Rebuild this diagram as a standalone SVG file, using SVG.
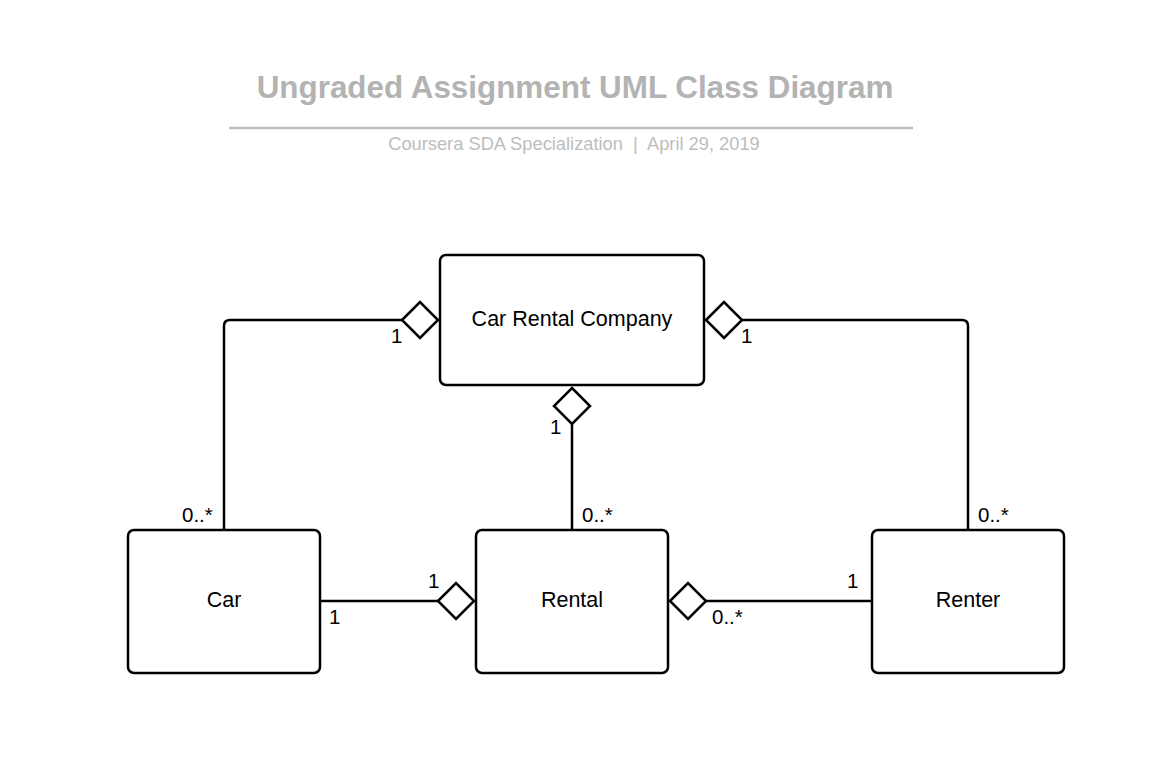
<svg xmlns="http://www.w3.org/2000/svg" width="1172" height="778" viewBox="0 0 1172 778">
<style>
.box{fill:#fff;stroke:#000;stroke-width:2.5}
.lbl{font-family:"Liberation Sans",Arial,sans-serif;font-size:21.5px;fill:#000;text-anchor:middle}
.m{font-family:"Liberation Sans",Arial,sans-serif;font-size:20.5px;fill:#000}
.c{fill:none;stroke:#000;stroke-width:2.5;stroke-linejoin:round}
.d{fill:#fff;stroke:#000;stroke-width:2.5;stroke-linejoin:miter}
</style>
<rect width="1172" height="778" fill="#fff"/>
<g id="title">
<text x="575" y="98" text-anchor="middle" font-family="'Liberation Sans',Arial,sans-serif" font-size="31.4" font-weight="bold" fill="#b3b3b3">Ungraded Assignment UML Class Diagram</text>
<line x1="229" y1="128" x2="913" y2="128" stroke="#bdbdbd" stroke-width="2.5"/>
<text x="574" y="150" text-anchor="middle" font-family="'Liberation Sans',Arial,sans-serif" font-size="18.3" fill="#bdbdbd" xml:space="preserve">Coursera SDA Specialization  |  April 29, 2019</text>
</g>
<g id="connectors">
<path class="c" d="M402,320 H230 Q224,320 224,326 V530"/>
<path class="c" d="M742,320 H962 Q968,320 968,326 V530"/>
<path class="c" d="M572,424 V530"/>
<path class="c" d="M320,601 H438"/>
<path class="c" d="M706,601 H872"/>
<polygon class="d" points="402,320 420,302 438,320 420,338"/>
<polygon class="d" points="706,320 724,302 742,320 724,338"/>
<polygon class="d" points="572,388 590,406 572,424 554,406"/>
<polygon class="d" points="438,601 456,583 474,601 456,619"/>
<polygon class="d" points="670,601 688,583 706,601 688,619"/>
<text class="m" x="391" y="343">1</text>
<text class="m" x="741" y="343">1</text>
<text class="m" x="550" y="434">1</text>
<text class="m" x="182" y="522">0..*</text>
<text class="m" x="582" y="522">0..*</text>
<text class="m" x="978" y="522">0..*</text>
<text class="m" x="428" y="588">1</text>
<text class="m" x="329" y="624">1</text>
<text class="m" x="847" y="588">1</text>
<text class="m" x="712" y="624">0..*</text>
</g>
<g id="crc">
<rect class="box" x="440" y="255" width="264" height="130" rx="6"/>
<text class="lbl" x="572" y="326">Car Rental Company</text>
</g>
<g id="car">
<rect class="box" x="128" y="530" width="192" height="143" rx="6"/>
<text class="lbl" x="224" y="607">Car</text>
</g>
<g id="rental">
<rect class="box" x="476" y="530" width="192" height="143" rx="6"/>
<text class="lbl" x="572" y="607">Rental</text>
</g>
<g id="renter">
<rect class="box" x="872" y="530" width="192" height="143" rx="6"/>
<text class="lbl" x="968" y="607">Renter</text>
</g>
</svg>
